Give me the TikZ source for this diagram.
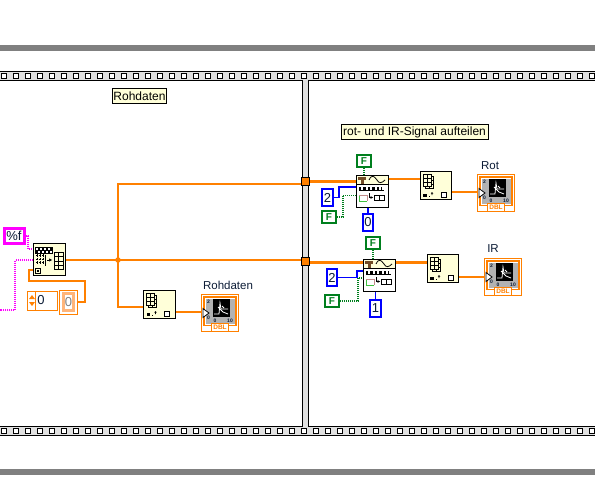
\documentclass[tikz,border=0pt]{standalone}
\usepackage{fontspec}
\setmainfont{Liberation Sans}
\usepackage{xcolor}
\usetikzlibrary{positioning, arrows.meta, calc}

\definecolor{wireorange}{HTML}{FF8000}
\definecolor{paleorange}{HTML}{FFB57A}
\definecolor{paleyellow}{HTML}{FFFFD9}
\definecolor{strand}{HTML}{E0E0E0}
\definecolor{pinkwire}{HTML}{FF00FF}
\definecolor{constblue}{HTML}{0000FF}
\definecolor{constgreen}{HTML}{007F1E}
\definecolor{ink}{HTML}{0C1C36}

\tikzset{
  % icons are drawn around the centre of the node they sit on
  graphicon/.pic={
    \draw[wireorange, line width=1.2, fill=white] (-18.5,-18.5) rectangle (18.5,18.5);
    \draw[wireorange, line width=1.2, fill=white] (-16,-16) rectangle (16,12.5);
    \fill[gray!60] (-14.5,-14.5) rectangle (14.5,11);
    \fill[black] (-7,-14) rectangle (10,4);
    \draw[white, line width=0.8] (-6,1) -- (-1,1) -- (0,-10) -- (1,-4) -- (8,-4);
    \draw[white, line width=0.8] (-2,-6) -- (3,-1) -- (8,1) (2,-7) -- (4,-5);
    \node[font=\bfseries\fontsize{5}{5}\selectfont, inner sep=0] at (-11.5,-11) {2};
    \node[font=\bfseries\fontsize{5}{5}\selectfont, inner sep=0] at (-11.5,5) {0};
    \node[font=\bfseries\fontsize{5}{5}\selectfont, inner sep=0] at (-5,8) {0};
    \node[font=\bfseries\fontsize{5}{5}\selectfont, inner sep=0] at (10,8) {10};
    \draw[wireorange, line width=1.2, fill=white] (-8.5,10.5) rectangle (8.5,18.5);
    \node[wireorange, font=\bfseries\fontsize{6.5}{6.5}\selectfont, inner sep=0] at (0,14.5) {DBL};
    \draw[black, line width=0.8, fill=white] (-17,-4.5) -- (-11,0) -- (-17,4.5) -- cycle;
  },
  reshapeicon/.pic={
    \foreach \dd in {2,0}{
      \draw[black, line width=0.8, fill=paleyellow] (-13+\dd,-11+\dd) rectangle (-5+\dd,1+\dd);
      \draw[black, line width=0.8] (-9+\dd,-11+\dd) -- (-9+\dd,1+\dd)
        (-13+\dd,-7+\dd) -- (-5+\dd,-7+\dd) (-13+\dd,-3+\dd) -- (-5+\dd,-3+\dd);
    }
    \fill[black] (-13,8.5) rectangle (-9.5,12);
    \fill[black] (-7.5,10.5) rectangle (-6.5,11.5);
    \draw[black, line width=0.7] (-4,10) -- (-4,7.5) (-5,8.5) -- (-4,7.5) -- (-3,8.5);
    \draw[black, line width=1, fill=white] (5,7.5) rectangle (10,12);
  },
  waveicon/.pic={
    \fill[paleyellow] (-15.5,-15.5) rectangle (15.5,-7);
    \draw[black, line width=1.2] (-16,-6.5) -- (16,-6.5);
    \fill[brown!60!black] (-14,-14) rectangle (-6,-11);
    \fill[brown!60!black] (-11,-12) rectangle (-8.5,-7.5);
    \draw[black, line width=0.8] (-3,-11) .. controls (0,-17) and (2,-15) .. (5,-11)
      .. controls (7,-7) and (10,-8) .. (13,-11);
    \fill[black] (-13,-4.5) rectangle (12,0);
    \foreach \dx in {-11,-6.5,-2,2.5,7,10}{
      \fill[white] (\dx,-3.6) rectangle ++(2.4,2.4);
    }
    \draw[red!30!gray!70, line width=0.8] (-13,4.5) -- (-5,4.5) -- (-5,10);
    \draw[green!50!gray, line width=0.8] (-5,10) -- (-13,10) -- (-13,4.5);
    \draw[black, line width=1, -{Latex[length=3,width=3]}] (-3,2) -- (-3,6.5) -- (1.5,6.5);
    \draw[black, line width=1] (2,4) rectangle (7,9) (7,4) rectangle (12,9);
  },
  buildicon/.pic={
    \fill[black] (-14,-13) rectangle (4,-6);
    \foreach \dx in {-13,-9,-5,-1}{
      \fill[white] (\dx,-12) rectangle ++(2.2,2.2);
      \fill[white] (\dx+1.5,-9) rectangle ++(2.2,2.2);
    }
    \foreach \dx in {-12,-9,-6}{
      \foreach \dy in {-4,-0.5,3}{
        \draw[black, line width=0.7] (\dx-1.2,\dy) -- (\dx+1.2,\dy) (\dx,\dy-1.2) -- (\dx,\dy+1.2);
      }
    }
    \draw[black, line width=0.8] (-4,-5) -- (-4,6);
    \draw[black, line width=1, -{Latex[length=3.5,width=3.5]}] (-2,0.5) -- (3.5,0.5);
    \draw[black, line width=0.8] (5,-7) rectangle (14,10);
    \draw[black, line width=0.8] (9.5,-7) -- (9.5,10)
      (5,-2.7) -- (14,-2.7) (5,1.5) -- (14,1.5) (5,5.8) -- (14,5.8);
    \draw[black, line width=1] (-13.5,8.5) rectangle (-8.5,13.5);
    \fill[black] (-12,10) rectangle (-10,12);
  }
}

\begin{document}
\begin{tikzpicture}[
  x=1pt, y=-1pt,
  every node/.style={font=\fontsize{11.5}{12}\selectfont, text=ink, inner sep=0},
  labelbox/.style={draw=black, line width=1, fill=paleyellow, text=black, font=\fontsize{12}{12}\selectfont, minimum height=15},
  sublabel/.style={text=ink},
  vifunc/.style={draw=black, line width=1, fill=white, minimum width=32, minimum height=32},
  reshape/.style={draw=black, line width=1, fill=paleyellow, minimum width=31.5, minimum height=28},
  graphnode/.style={minimum width=38, minimum height=38},
  blueconst/.style={draw=constblue, line width=2.4, fill=white, font=\fontsize{13}{13}\selectfont, minimum width=10.5, minimum height=16.5},
  boolconst/.style={draw=constgreen, line width=2.4, fill=white, text=constgreen, font=\bfseries\fontsize{10}{10}\selectfont, minimum width=13.5, minimum height=12},
  tunnel/.style={draw=black, line width=1, fill=wireorange, minimum size=8.5},
  orangew/.style={wireorange, line width=2.4},
  thinw/.style={wireorange, line width=1.2},
  pinkw/.style={pinkwire, line width=1.2, dash pattern=on 1pt off 1pt},
  bluew/.style={constblue, line width=1.1},
  greenw/.style={constgreen, line width=1.2, dash pattern=on 1pt off 1pt}
]
\useasboundingbox (0,0) rectangle (595,487);

% grey bars
\fill[gray] (0,45) rectangle (595,51);
\fill[gray] (0,469) rectangle (595,475);

% frame
\fill[strand] (0,71.5) rectangle (595,80.5);
\fill[strand] (0,426.5) rectangle (595,435.5);
\fill[strand] (302.5,80) rectangle (308.5,427);
\draw[black, line width=1] (0,71.5) -- (595,71.5) (0,435.5) -- (595,435.5);
\draw[black, line width=1] (0,80.5) -- (302.5,80.5) -- (302.5,426.5) -- (0,426.5);
\draw[black, line width=1] (595,80.5) -- (308.5,80.5) -- (308.5,426.5) -- (595,426.5);
\foreach \k in {0,...,49}{
  \draw[black, line width=1, fill=white] (12*\k+1.5,73.5) rectangle ++(5,5);
  \draw[black, line width=1, fill=white] (12*\k+1.5,428.5) rectangle ++(5,5);
}

% labels
\node[labelbox, minimum width=54] (lblraw) at (139.5,96.5) {Rohdaten};
\node[labelbox, minimum width=147] (lblsplit) at (414.5,132) {rot- und IR-Signal aufteilen};

% left part
\node[draw=pinkwire, line width=3, fill=white, minimum width=20, minimum height=15.5, font=\fontsize{13}{13}\selectfont] (fmt) at (14,236) {\%f};
\node[reshape, minimum width=32, minimum height=31.5] (build) at (49,259.5) {};
\pic at (build) {buildicon};
\node[draw=wireorange, line width=1, fill=white, minimum width=30, minimum height=19] (numctl) at (42.5,300.5) {};
\node[font=\fontsize{13}{13}\selectfont] (numval) at (41,300.5) {0};
\node[draw=wireorange, line width=1, fill=white, minimum width=18, minimum height=24] (numind) at (68.5,302) {};
\node[draw=paleorange, line width=2.2, fill=white, minimum width=10, minimum height=17, text=gray, font=\fontsize{13}{13}\selectfont] (numshow) at (68.5,302) {0};
\draw[wireorange, line width=1] (35.5,291) -- (35.5,310);
\fill[wireorange] (29,299) -- (32,295) -- (35,299) -- cycle (29,302) -- (32,306) -- (35,302) -- cycle;

\node[reshape] (rawshape) at (159.5,304) {};
\pic at (rawshape) {reshapeicon};
\node[graphnode] (rawgraph) at (220,313) {};
\pic at (rawgraph) {graphicon};
\node[sublabel] (rawtext) at (228,285.5) {Rohdaten};

\node[tunnel] (tuntop) at (305.5,181.5) {};
\node[tunnel] (tunlow) at (305.5,261.5) {};
\coordinate (jn) at (118,260);

% upper branch
\node[vifunc] (wavetop) at (372,191) {};
\pic at (wavetop) {waveicon};
\node[boolconst] (ftop) at (364,161) {F};
\node[blueconst] (twotop) at (327.5,197.5) {2};
\node[boolconst] (fleft) at (329,217) {F};
\node[blueconst] (zero) at (368,222.5) {0};
\node[reshape] (rotshape) at (436,185) {};
\pic at (rotshape) {reshapeicon};
\node[graphnode] (rotgraph) at (496,193) {};
\pic at (rotgraph) {graphicon};
\node[sublabel] (rottext) at (490,166) {Rot};

% lower branch
\node[vifunc] (wavelow) at (379,275) {};
\pic at (wavelow) {waveicon};
\node[boolconst] (ftoplow) at (373,243) {F};
\node[blueconst] (twolow) at (332,277.5) {2};
\node[boolconst] (fleftlow) at (332,301) {F};
\node[blueconst] (one) at (375.5,308.5) {1};
\node[reshape] (irshape) at (443,268) {};
\pic at (irshape) {reshapeicon};
\node[graphnode] (irgraph) at (503,277) {};
\pic at (irgraph) {graphicon};
\node[sublabel] (irtext) at (493,249) {IR};

% wires
\draw[orangew] (build.east |- jn) -- (tunlow.west |- jn);
\draw[orangew] (tuntop.west |- 0,184) -- (118,184) -- (118,307) -- (rawshape.west |- 0,307);
\node[circle, fill=wireorange, minimum size=5.5] (jndot) at (jn) {};
\draw[orangew] (build.west |- 0,270) -- (29,270) -- (29,281) -- (85,281) -- (85,302) -- (numind.east);
\draw[thinw] (rawshape.east |- 0,312) -- (rawgraph.west |- 0,312);

\draw[pinkw] (fmt.east) -- (28,236) -- (28,249) -- (build.west |- 0,249);
\draw[pinkw] (build.west |- 0,260) -- (15,260) -- (15,310) -- (0,310);

\draw[orangew] (tuntop.east) -- (wavetop.west |- tuntop);
\draw[orangew] (wavetop.east |- 0,179) -- (rotshape.west |- 0,179);
\draw[thinw] (rotshape.east |- 0,192) -- (rotgraph.west |- 0,192);
\draw[greenw] (ftop) -- (ftop |- wavetop.north);
\draw[bluew] (twotop.east) -- (339,197.5) -- (339,187) -- (wavetop.west |- 0,187);
\draw[greenw] (fleft.east) -- (343,217) -- (343,195.5) -- (wavetop.west |- 0,195.5);
\draw[bluew] (wavetop.south -| zero) -- (zero);

\draw[orangew] (tunlow.east |- 0,262.5) -- (wavelow.west |- 0,262.5);
\draw[orangew] (wavelow.east |- 0,262.5) -- (irshape.west |- 0,262.5);
\draw[thinw] (irshape.east |- 0,277) -- (irgraph.west |- 0,277);
\draw[greenw] (ftoplow) -- (ftoplow |- wavelow.north);
\draw[bluew] (twolow.east) -- (357,277.5) -- (357,271) -- (wavelow.west |- 0,271);
\draw[greenw] (fleftlow.east) -- (358,301) -- (358,278) -- (wavelow.west |- 0,278);
\draw[bluew] (wavelow.south -| one) -- (one);

\end{tikzpicture}
\end{document}
